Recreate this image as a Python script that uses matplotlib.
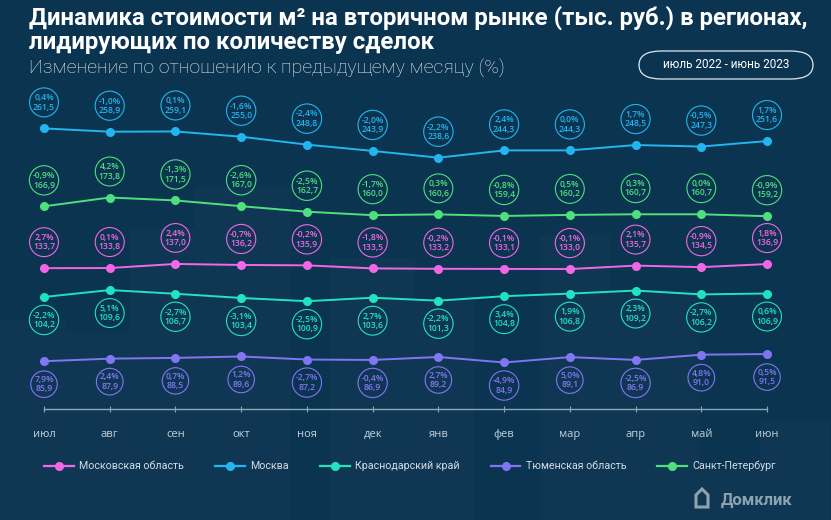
import matplotlib
matplotlib.use("Agg")
from matplotlib import pyplot as plt
from matplotlib.lines import Line2D
from matplotlib.patches import FancyBboxPatch, Polygon, Rectangle

months = ["июл", "авг", "сен", "окт", "ноя", "дек",
          "янв", "фев", "мар", "апр", "май", "июн"]

moscow = [261.5, 258.9, 259.1, 255.0, 248.8, 243.9, 238.6, 244.3, 244.3, 248.5, 247.3, 251.6]
moscow_pct = [0.4, -1.0, 0.1, -1.6, -2.4, -2.0, -2.2, 2.4, 0.0, 1.7, -0.5, 1.7]

spb = [166.9, 173.8, 171.5, 167.0, 162.7, 160.0, 160.6, 159.4, 160.2, 160.7, 160.7, 159.2]
spb_pct = [-0.9, 4.2, -1.3, -2.6, -2.5, -1.7, 0.3, -0.8, 0.5, 0.3, 0.0, -0.9]

mo = [133.7, 133.8, 137.0, 136.2, 135.9, 133.5, 133.2, 133.1, 133.0, 135.7, 134.5, 136.9]
mo_pct = [2.7, 0.1, 2.4, -0.7, -0.2, -1.8, -0.2, -0.1, -0.1, 2.1, -0.9, 1.8]

krasnodar = [104.2, 109.6, 106.7, 103.4, 100.9, 103.6, 101.3, 104.8, 106.8, 109.2, 106.2, 106.9]
krasnodar_pct = [-2.2, 5.1, -2.7, -3.1, -2.5, 2.7, -2.2, 3.4, 1.9, 2.3, -2.7, 0.6]

tyumen = [85.9, 87.9, 88.5, 89.6, 87.2, 86.9, 89.2, 84.9, 89.1, 86.9, 91.0, 91.5]
tyumen_pct = [7.9, 2.4, 0.7, 1.2, -2.7, -0.4, 2.7, -4.9, 5.0, -2.5, 4.8, 0.5]

BG = "#0b3451"

# name, values, pct, color, vertical band shift, bubble above?
series = [
    ("Москва", moscow, moscow_pct, "#22b5ef", 0.0, True),
    ("Санкт-Петербург", spb, spb_pct, "#4ee07c", 33.7, True),
    ("Московская область", mo, mo_pct, "#f266e6", 18.6, True),
    ("Краснодарский край", krasnodar, krasnodar_pct, "#1fe3c0", 25.6, False),
    ("Тюменская область", tyumen, tyumen_pct, "#8174f2", -6.3, False),
]
legend_order = ["Московская область", "Москва", "Краснодарский край",
                "Тюменская область", "Санкт-Петербург"]


def fmt(v):
    return f"{v:.1f}".replace(".", ",")


fig = plt.figure(figsize=(8.31, 5.2), dpi=100, facecolor=BG)
W, H = 831, 520

# faint ghost bars in the background (decoration)
ghosts = [(0, 320, 65), (65, 332, 65), (130, 228, 65), (195, 187, 96),
          (330, 258, 85), (415, 300, 60), (540, 235, 70), (610, 290, 90),
          (700, 470, 60), (760, 420, 70)]
for gx, gy, gw in ghosts:
    fig.patches.append(Rectangle((gx / W, 0), gw / W, 1 - gy / H, transform=fig.transFigure,
                                 fc="white", alpha=0.02, ec="none", zorder=0))

ax = fig.add_axes([0, 0, 1, 1])
ax.patch.set_alpha(0)

step = 65.73
ax.set_xlim(-44 / step, (W - 44) / step)
k = 1.28
ytop = 361.8
ax.set_ylim(ytop - H / k, ytop)

x = list(range(len(months)))
colors = {}
for name, vals, pct, col, shift, above in series:
    colors[name] = col
    y = [v + shift for v in vals]
    ax.plot(x, y, color=col, lw=1.4, marker="o", ms=5.5, zorder=3)
    dy = 26 if above else -23
    for xi, yi, v, p in zip(x, y, vals, pct):
        ax.annotate(f"{fmt(p)}%\n{fmt(v)}", (xi, yi), xytext=(0, dy),
                    textcoords="offset pixels", ha="center", va="center",
                    fontsize=6.2, color=col, family="Open Sans", weight="semibold",
                    linespacing=1.05,
                    bbox=dict(boxstyle="circle,pad=0.4", fc="none", ec=col, lw=0.8))

# month axis
for s in ["top", "left", "right"]:
    ax.spines[s].set_visible(False)
ax.spines["bottom"].set_position(("data", ytop - 409 / k))
ax.spines["bottom"].set_bounds(0, len(months) - 1)
ax.spines["bottom"].set_color("#8aa6b4")
ax.spines["bottom"].set_linewidth(1.0)
ax.set_xticks(x)
ax.set_xticklabels(months)
ax.tick_params(axis="x", direction="inout", length=5, width=0.8, color="#8aa6b4",
               labelcolor="#c3d0d8", labelsize=8, pad=12)
ax.set_yticks([])
for lab in ax.get_xticklabels():
    lab.set_family("Open Sans")

# legend
handles = [Line2D([], [], color=colors[n], lw=1.6, marker="o", ms=5.5) for n in legend_order]
leg = ax.legend(handles, legend_order, loc="center left", bbox_to_anchor=(34 / W, 1 - 466 / H),
                bbox_transform=fig.transFigure, ncol=5, frameon=False,
                handlelength=2.8, handletextpad=0.5, columnspacing=2.9,
                prop={"family": "Roboto", "size": 7.7})
for t in leg.get_texts():
    t.set_color("#d3dde3")

# titles
fig.text(29 / W, 1 - 18 / H, "Динамика стоимости м² на вторичном рынке (тыс. руб.) в регионах,",
         fontsize=17.3, weight="bold", family="Roboto", color="white", va="center")
fig.text(29 / W, 1 - 43 / H, "лидирующих по количеству сделок",
         fontsize=17.3, weight="bold", family="Roboto", color="white", va="center")
fig.text(29 / W, 1 - 68 / H, "Изменение по отношению к предыдущему месяцу (%)",
         fontsize=14, weight="light", family="Roboto", color="#e6edf1", va="center")

pill = FancyBboxPatch((639 / W, 1 - 79 / H), 174 / W, 28 / H,
                      boxstyle="round,pad=0,rounding_size=0.027", transform=fig.transFigure,
                      fc="none", ec="#dfe7ec", lw=0.9)
fig.patches.append(pill)
fig.text(726 / W, 1 - 65 / H, "июль 2022 - июнь 2023", fontsize=8.5, family="Roboto",
         color="white", ha="center", va="center")

# logo
house = Polygon([(696 / W, 1 - 495 / H), (702 / W, 1 - 489 / H), (708 / W, 1 - 495 / H),
                 (708 / W, 1 - 507 / H), (696 / W, 1 - 507 / H)], closed=True,
                transform=fig.transFigure, fc="none", ec="#8ea3b0", lw=2.2)
fig.patches.append(house)
fig.text(721 / W, 1 - 500 / H, "Домклик", fontsize=12, weight="bold", family="Roboto",
         color="#8ea3b0", va="center")

fig.savefig("out.png", dpi=100, facecolor=BG)
